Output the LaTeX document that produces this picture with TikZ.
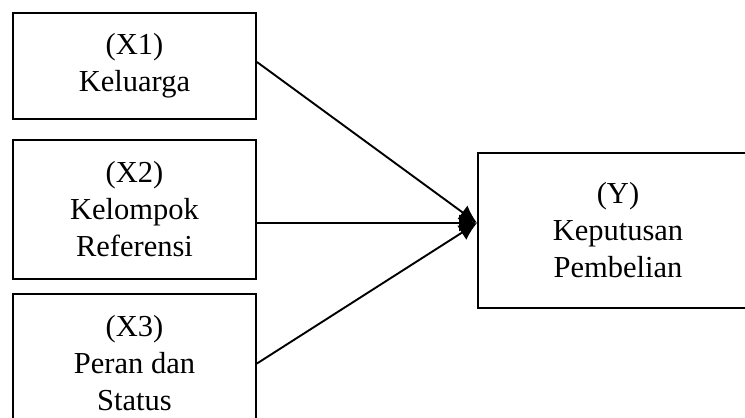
\documentclass[tikz,border=0pt]{standalone}
\usepackage{fontspec}
\setmainfont{Liberation Serif}
\usetikzlibrary{arrows.meta}
\begin{document}
\begin{tikzpicture}[x=1pt, y=-1pt, line width=1.9pt,
  var/.style={draw, rectangle, align=center, inner sep=0pt, font=\fontsize{30.5}{37}\selectfont},
  link/.style={-{Latex[length=18pt,width=17pt]}}]
\useasboundingbox (0,0) rectangle (745,418);
\node[var, minimum width=243pt, minimum height=106pt] (x1) at (134.5,66){(X1)\\Keluarga};
\node[var, minimum width=243pt, minimum height=139pt] (x2) at (134.5,209.5){(X2)\\Kelompok\\Referensi};
\node[var, minimum width=243pt, minimum height=139pt] (x3) at (134.5,363.5){(X3)\\Peran dan\\Status};
\node[var, minimum width=280pt, minimum height=155pt] (y) at (618,230.5){(Y)\\Keputusan\\Pembelian};
\coordinate (tip) at ([yshift=7.5pt]y.west);
\draw[link] ([yshift=4pt]x1.east) -- (tip);
\draw[link] (x2.east |- tip) -- (tip);
\draw[link] (x3.east) -- (tip);

\end{tikzpicture}
\end{document}
